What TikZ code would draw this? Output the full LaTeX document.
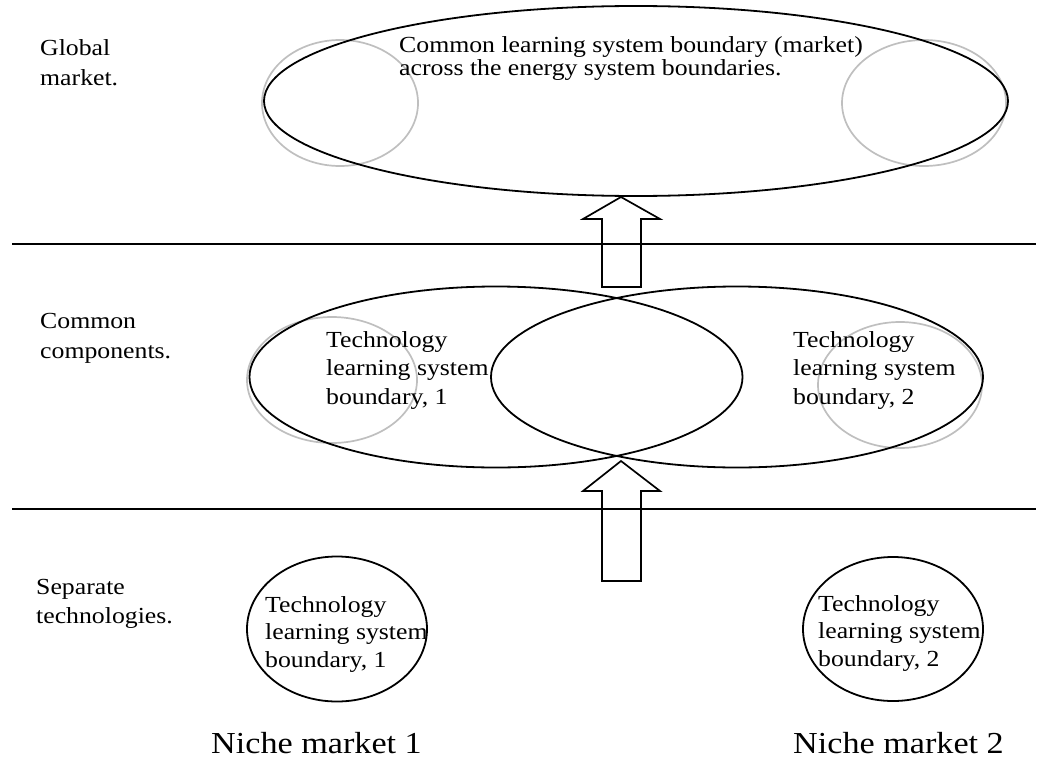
\documentclass[tikz,border=0pt]{standalone}
\usepackage{fontspec}
\setmainfont{Liberation Serif}[FakeStretch=1.12]
\usepackage{tikz}
\usetikzlibrary{shapes.geometric}
\usetikzlibrary{positioning}
\tikzstyle{boundary}=[draw,ellipse,line width=1.8pt,inner sep=0pt]
\tikzstyle{faint}=[draw=black!25,ellipse,line width=1.7pt,inner sep=0pt]
\tikzstyle{divider}=[line width=1.8pt]
\tikzstyle{rowtext}=[anchor=north west,inner sep=0pt,align=left,font=\fontsize{23}{30}\selectfont]

\begin{document}
\begin{tikzpicture}[x=1pt,y=-1pt]
\useasboundingbox (0,0) rectangle (1038,760);
% grey rings
\node [faint,minimum width=156pt,minimum height=126pt] (gl) at (340,103) {};
\node [faint,minimum width=164pt,minimum height=126pt] (gr) at (924,103) {};
\node [faint,minimum width=170pt,minimum height=126pt] (cl) at (332,380) {};
\node [faint,minimum width=164pt,minimum height=126pt] (cr) at (900,385) {};
% boundaries
\node [boundary,minimum width=744pt,minimum height=190pt] (global) at (636,101) {};
\node [boundary,minimum width=493pt,minimum height=181pt] (tech1) at (496,377) {};
\node [boundary,minimum width=492pt,minimum height=181pt] (tech2) at (737,377) {};
\node [boundary,minimum width=180pt,minimum height=145pt] (sep1) at (337,629) {};
\node [boundary,minimum width=180pt,minimum height=144pt] (sep2) at (893,629) {};

\coordinate (d1l) at (12,244);
\coordinate (d1r) at (1036,244);
\coordinate (d2l) at (12,509);
\coordinate (d2r) at (1036,509);
\draw [divider] (d1l) -- (d1r);
\draw [divider] (d2l) -- (d2r);

% block arrows
\draw [line width=1.7pt] (602,287) -- (602,219) -- (583,219) -- (621,197)
  -- (660,219) -- (641,219) -- (641,287) -- cycle;
\draw [line width=1.7pt] (602,581) -- (602,491) -- (583,491) -- (621,461)
  -- (660,491) -- (641,491) -- (641,581) -- cycle;

\node [rowtext] (glob) at (40,39) {Global\\market.};
\node [rowtext] (comp) at (40,313) {Common\\components.};
\node [rowtext,font=\fontsize{23}{29}\selectfont] (sepa) at (36,579) {Separate\\technologies.};
\node [rowtext,font=\fontsize{23}{23}\selectfont] (gtext) at (399,36)
  {Common learning system boundary (market)\\across the energy system boundaries.};
\node [rowtext,font=\fontsize{23}{28.5}\selectfont] (t1) at (326,331) {Technology\\learning system\\boundary, 1};
\node [rowtext,font=\fontsize{23}{28.5}\selectfont] (t2) at (793,331) {Technology\\learning system\\boundary, 2};
\node [rowtext,font=\fontsize{23}{27.5}\selectfont] (s1) at (265,596) {Technology\\learning system\\boundary, 1};
\node [rowtext,font=\fontsize{23}{27.5}\selectfont] (s2) at (818,595) {Technology\\learning system\\boundary, 2};
\node [rowtext,font=\fontsize{30.5}{36}\selectfont] (n1) at (211,732) {Niche market 1};
\node [rowtext,font=\fontsize{30.5}{36}\selectfont] (n2) at (793,732) {Niche market 2};
\end{tikzpicture}
\end{document}
